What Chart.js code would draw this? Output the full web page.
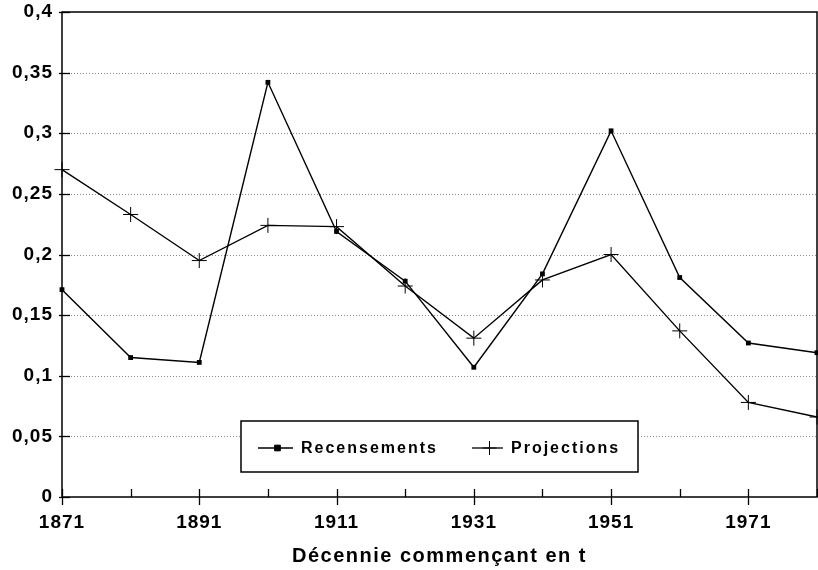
<!DOCTYPE html>
<html>
<head>
<meta charset="utf-8">
<script src="https://cdn.jsdelivr.net/npm/chart.js@4.4.1/dist/chart.umd.min.js"></script>
<style>
  html, body { margin: 0; padding: 0; background: #fff; }
  #wrap { width: 818px; height: 570px; }
</style>
</head>
<body>
<div id="wrap"><canvas id="canvas"></canvas></div>
<script>
// decades on the x axis (only every second one gets a label)
const decades = ['1871', '1881', '1891', '1901', '1911', '1921', '1931', '1941', '1951', '1961', '1971', '1981'];
const shownYears = ['1871', '1891', '1911', '1931', '1951', '1971'];

const recensements = [0.171, 0.115, 0.111, 0.342, 0.219, 0.178, 0.107, 0.184, 0.302, 0.181, 0.127, 0.119];
const projections  = [0.270, 0.233, 0.195, 0.224, 0.223, 0.174, 0.131, 0.179, 0.200, 0.137, 0.078, 0.066];

const yMin = 0, yMax = 0.4, yStep = 0.05;
const xTitle = 'Décennie commençant en t';

const FONT = "'Liberation Sans', Arial, Helvetica, sans-serif";
const TICK_SPACING = '1px';

const line = (ctx, x1, y1, x2, y2) => {
    ctx.beginPath(); ctx.moveTo(x1, y1); ctx.lineTo(x2, y2); ctx.stroke();
}

const framePlugin = {
    id: 'frame',
    beforeUpdate(chart) { chart.ctx.letterSpacing = TICK_SPACING },
    beforeLayout(chart) { chart.ctx.letterSpacing = TICK_SPACING },
    beforeDraw(chart) { chart.ctx.letterSpacing = TICK_SPACING },
    beforeDatasetsDraw(chart) {
        const {ctx, chartArea: a, scales: {x, y}} = chart;
        ctx.save();
        // dotted horizontal grid
        ctx.strokeStyle = '#8a8a8a';
        ctx.lineWidth = 1;
        ctx.setLineDash([1, 2]);
        y.ticks.forEach(t => {
            if (t.value <= yMin || t.value >= yMax) return;
            const py = Math.round(y.getPixelForValue(t.value)) + 0.5;
            line(ctx, a.left, py, a.right, py);
        });
        ctx.setLineDash([]);
        // frame
        ctx.strokeStyle = '#000';
        ctx.lineWidth = 1.5;
        ctx.strokeRect(a.left, a.top, a.right - a.left, a.bottom - a.top);
        // y ticks, pointing inward
        ctx.lineWidth = 1.3;
        y.ticks.forEach(t => {
            const py = Math.round(y.getPixelForValue(t.value)) + 0.5;
            line(ctx, a.left - 3, py, a.left + 8, py);
        });
        // x ticks: labelled ones cross the axis, others only inward
        decades.forEach((d, i) => {
            const px = Math.round(x.getPixelForValue(i)) + 0.5;
            if (shownYears.includes(d)) line(ctx, px, a.bottom - 8, px, a.bottom + 8);
            else line(ctx, px, a.bottom - 8, px, a.bottom);
        });
        ctx.restore();
    },
    afterDraw(chart) {
        const {ctx, chartArea: a} = chart;
        ctx.save();
        // legend box inside the plot
        const bx = a.left + 179, by = a.bottom - 76, bw = 397, bh = 51;
        ctx.fillStyle = '#fff';
        ctx.fillRect(bx, by, bw, bh);
        ctx.strokeStyle = '#000';
        ctx.lineWidth = 1.5;
        ctx.strokeRect(bx, by, bw, bh);
        const cy = by + 27;
        const items = [
            {ds: chart.data.datasets[0], x: bx + 17, len: 35, mark: 4},
            {ds: chart.data.datasets[1], x: bx + 231, len: 31, mark: 7}
        ];
        ctx.font = 'bold 16px ' + FONT;
        ctx.textBaseline = 'middle';
        ctx.textAlign = 'left';
        items.forEach(({ds, x, len, mark}) => {
            ctx.strokeStyle = '#000';
            ctx.lineWidth = 1.3;
            line(ctx, x, cy, x + len, cy);
            ctx.fillStyle = '#000';
            ctx.lineWidth = 1;
            Chart.helpers.drawPoint(ctx, {
                pointStyle: ds.pointStyle, radius: mark, borderWidth: 1, rotation: 0
            }, x + len / 2 + 2, cy);
            ctx.letterSpacing = '2px';
            ctx.fillStyle = '#000';
            ctx.fillText(ds.label, x + len + 8, cy + 1);
        });
        // axis title
        ctx.font = 'bold 20px ' + FONT;
        ctx.letterSpacing = '1.5px';
        ctx.textAlign = 'center';
        ctx.fillText(xTitle, (a.left + a.right) / 2, 556);
        ctx.restore();
    }
};

const ctx = document.getElementById('canvas');
new Chart(ctx, {
    type: 'line',
    data: {
        labels: decades,
        datasets: [
            {
                label: 'Recensements',
                data: recensements,
                borderColor: '#000',
                backgroundColor: '#000',
                borderWidth: 1.4,
                pointStyle: 'rect',
                pointRadius: 3.4,
                pointBorderWidth: 0,
                tension: 0
            },
            {
                label: 'Projections',
                data: projections,
                borderColor: '#000',
                backgroundColor: '#000',
                borderWidth: 1.4,
                pointStyle: 'cross',
                pointRadius: 7.5,
                pointBorderWidth: 1,
                tension: 0
            }
        ]
    },
    options: {
        responsive: true,
        maintainAspectRatio: false,
        animation: false,
        layout: { autoPadding: false, padding: { top: 12, right: 1, left: 0, bottom: 0 } },
        plugins: { legend: { display: false }, tooltip: { enabled: false } },
        scales: {
            x: {
                offset: false,
                grid: { display: false, drawTicks: false },
                border: { display: false },
                ticks: {
                    autoSkip: false,
                    maxRotation: 0,
                    padding: 14,
                    color: '#000',
                    font: { family: FONT, size: 19, weight: 'bold' },
                    callback: function(v, i) { return shownYears.includes(decades[i]) ? decades[i] : '' }
                },
                afterFit: s => { s.height = 73; s.paddingLeft = 0; s.paddingRight = 0 }
            },
            y: {
                min: yMin,
                max: yMax,
                grid: { display: false, drawTicks: false },
                border: { display: false },
                ticks: {
                    stepSize: yStep,
                    padding: 9,
                    color: '#000',
                    font: { family: FONT, size: 19, weight: 'bold' },
                    callback: v => String(Math.round(v * 100) / 100).replace('.', ',')
                },
                afterFit: s => { s.width = 62; s.paddingTop = 0; s.paddingBottom = 0 }
            }
        }
    },
    plugins: [framePlugin]
});
</script>
</body>
</html>
